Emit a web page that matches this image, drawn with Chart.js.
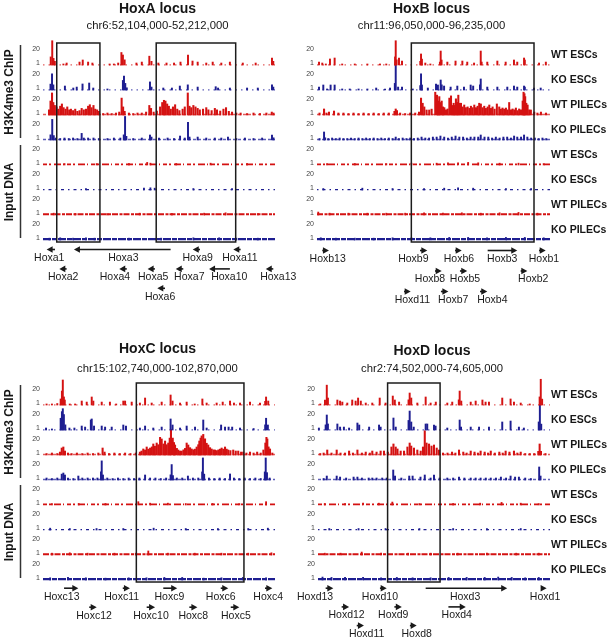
<!DOCTYPE html>
<html><head><meta charset="utf-8">
<script src="https://cdn.jsdelivr.net/npm/chart.js@4.4.1/dist/chart.umd.min.js"></script>
<style>
html,body{margin:0;padding:0;background:#fff;}
#wrap{position:relative;width:611px;height:641px;overflow:hidden;background:#fff;}
#wrap canvas{position:absolute;left:0;top:0;}
</style></head><body>
<div id="wrap">
<canvas id="cA" width="611" height="641"></canvas>
<canvas id="cB" width="611" height="641"></canvas>
<canvas id="cC" width="611" height="641"></canvas>
<canvas id="cD" width="611" height="641"></canvas>
</div>
<script>
// ---------------- DATA ----------------
const lociTitles = ['HoxA locus', 'HoxB locus', 'HoxC locus', 'HoxD locus'];
const lociCoords = ['chr6:52,104,000-52,212,000', 'chr11:96,050,000-96,235,000', 'chr15:102,740,000-102,870,000', 'chr2:74,502,000-74,605,000'];
const lociSpanKb = [108, 185, 130, 103];
const trackNames = ['WT ESCs', 'KO ESCs', 'WT PILECs', 'KO PILECs', 'WT ESCs', 'KO ESCs', 'WT PILECs', 'KO PILECs'];
const groupNames = ['H3K4me3 ChIP', 'Input DNA'];
const yTickValues = [1, 20];
const yRange = [1, 35];
const trackBackground = [1.3, 1.3, 1.6, 1.6, 1.8, 1.5, 2.0, 2.2];

// peaks: [position kb from locus start, signal]
const hoxA_wtESC = [[3.6,12],[4.3,34],[4.9,10],[5.5,6],[9.5,2.4],[11,3.7],[17,5],[18.5,7.8],[21,5],[23,3.7],[31,2.4],[33,2.4],[35,3.7],[36.5,18],[37.2,14.6],[38,8],[43.5,3.7],[46,5],[49.5,13],[50.5,6],[53.7,3.7],[57.5,3.7],[61,3.7],[64,5],[67.5,14.6],[69.6,6.4],[72,5],[76,3.7],[79,5],[83,3.7],[87,5],[93,3.7],[99,3.7],[106.6,10.5],[107.2,6]];
const hoxA_koESC = [[3.5,9],[4.2,23],[4.8,8],[10.2,6.4],[14.1,3.7],[15.7,5],[18.4,9.2],[21.5,10.5],[23.4,3.7],[30,2.4],[37.2,14],[37.7,20],[38.3,10],[39,4],[49.8,12],[50.5,5],[56,3.7],[60,3.7],[63.7,6.4],[67.4,8],[72,5],[80.4,5.5],[81.5,3.7],[87,3.7],[95,3.7],[100,3.7],[106.6,8],[107.2,5]];
const hoxA_wtPILEC = [[2.8,8],[3.5,20],[4.2,31],[4.8,18],[5.5,14],[6.3,12],[7.1,9],[8,13],[8.8,16],[9.6,11],[10.5,9],[11.3,12],[12.2,8],[13,9],[14,7],[15,9],[16,6],[17,7],[18,10],[19,8],[20,9],[21,13],[21.8,15],[22.6,11],[23.5,14],[24.3,9],[25.2,8],[26,6],[28,3],[30,3.7],[32,3],[34,3.7],[35.5,5],[36.6,24],[37.3,12],[38,6],[40,3.7],[42,3],[44,3.7],[46,3.7],[48,5],[49.5,14],[50.3,10],[51.5,5],[53,6.4],[54.5,12],[55.5,18],[56.3,21],[57,20],[57.8,16],[58.6,13],[59.5,9],[60.5,12],[61.5,15],[62.5,9],[63.5,7],[65,9],[66,12],[67.4,31],[68.2,13],[69,11],[70,14],[71,12],[72,10],[73,8],[74.5,9],[76,11],[77,8],[78.5,7],[80,10],[81,8],[82.5,6.4],[84,9],[85.2,11],[86.5,6],[88,5],[90,3.7],[92,3.7],[95,3],[98,3.7],[101,3],[104,3.7],[106.5,5],[107.3,3.7]];
const hoxA_koPILEC = [[3.5,8],[4.3,29],[5,7],[6,3.7],[8,3],[10,3.7],[12,3],[14,3.7],[16,3],[18,10],[19,3.7],[21,3.7],[23.5,3.7],[26,3],[30,3],[33,3.7],[36,3.7],[37.6,8],[38.2,33],[38.8,6],[42,3],[46,3.7],[49.8,7.8],[50.5,5],[54,3.7],[58,3.7],[61,3],[63.8,6.4],[66,3.7],[67.5,25],[68.2,5],[72,5],[76,3.7],[80,3.7],[83,3.7],[86.1,5],[90,3],[94,3.7],[98,3],[102,3.7],[106.6,7.8],[107.3,4]];
const hoxA_inWtESC = [[10,3],[25,3],[40,3],[48.5,4.5],[50,3.5],[62,3],[78,3.5],[95,3]];
const hoxA_inKoESC = [[20,3],[47,3.5],[50,4],[52,3.5],[70,3],[88,3]];
const hoxA_inWtPILEC = [[5,3.5],[15,3],[30,3],[45,3.5],[60,3],[75,3.5],[85,4],[100,3]];
const hoxA_inKoPILEC = [[3,3.5],[8,4],[14,3.5],[20,4],[24,3.5],[40,3.5],[55,3.5],[70,4],[82,4],[90,3.5],[100,3.5]];

const hoxB_wtESC = [[1.6,5],[4.2,3.7],[7,2.4],[10.3,9.2],[14,10.5],[20,2.4],[30,2.4],[40,2.4],[50,2.4],[55,2.4],[62,12],[62.5,34],[63.2,8],[65.1,10.5],[67.5,6.4],[82,6],[82.6,16],[83.3,9],[86,3.7],[90,2.4],[97.6,5],[98.2,20],[98.9,7.8],[103.5,5],[110,6.4],[115.4,6.4],[119.3,5],[124.7,3.7],[130,20],[130.7,5],[135.2,5],[143.2,6.4],[149.8,5],[156.4,7.8],[159,5],[164.4,10.5],[165,7.8],[176.3,3.7],[181.7,5]];
const hoxB_koESC = [[1.6,5],[5,7.8],[8,2.4],[10.8,7.8],[14,7.8],[20,2.4],[26,2.4],[33,2.4],[40,2.4],[47,3.7],[54,2.4],[58,3.7],[61.8,10],[62.5,39],[64.4,5],[67.5,5],[76,2.4],[82,7],[82.6,23],[83.3,7.8],[88,3.7],[94.5,9.2],[96,7.8],[98.2,14.6],[99,8],[100.9,6.4],[106.1,5],[111.4,6.4],[116.7,5],[122,7.8],[124,6.4],[129.4,8],[130,16],[135.2,5],[143.2,5],[151.1,5],[156.4,6.4],[159,5],[164.4,6.4],[165,5],[172.3,3.7],[177.6,3.7]];
const hoxB_wtPILEC = [[2,3.7],[5.6,9.2],[7.5,3.7],[9.5,5],[13.5,6.4],[17,3.7],[21,3.7],[25,3],[29,3.7],[33,3],[37,3.7],[41,3],[45,3.7],[49,3],[53,3.7],[57,3.7],[61.5,6],[62.5,9.2],[63.5,7],[66,3.7],[70,3],[74,3.7],[78,3.7],[81,5],[82.6,24],[83.9,17],[85.2,12],[87,7.8],[89.1,7.8],[91,9],[93.9,32],[95.3,28],[96.2,20],[97.1,26],[98,18],[99,20],[100,12],[101.1,11],[102.4,8],[103.7,9.2],[105.1,24],[106.4,27],[107.5,14],[108.5,17],[109.4,14],[110.3,23],[111.2,18],[112.2,28],[113.2,17],[114.3,17],[115.6,12],[116.9,14.6],[118.2,11],[119.6,12],[121,10],[122.2,13],[123.5,11],[124.9,14.6],[126.2,11],[127.5,13],[128.8,17],[130.1,16],[131.5,11],[132.8,13],[134.1,10],[135.5,12],[136.8,14.6],[138.1,10],[139.4,12],[141,9],[142.8,16],[144.7,12],[146,9],[147.3,10.5],[148.6,9],[150,10.5],[151.3,8],[152.6,18],[154,8],[155.3,9.2],[156.6,8],[157.9,10.5],[159.2,7],[160.5,9.2],[162,8],[163.3,20],[164,32],[164.7,30],[165.3,26],[166.2,17],[167.2,14.6],[168.5,8],[169.8,7.8],[172.5,5],[175,3.7],[177.8,5],[181.8,3.7]];
const hoxB_koPILEC = [[2,3],[5.6,11.9],[6.5,4],[9,3],[12,3.7],[15,3],[18,3.7],[21,3],[24,3],[27,3.7],[30,3],[33,3.7],[36,3],[39,3.7],[42,3],[45,3.7],[48,3],[51,3.7],[54,3],[57,3.7],[60,3],[62.5,5],[65,3],[68,3.7],[71,3],[74,3.7],[77,3],[80,3.7],[83,5],[86,3.7],[89,3.7],[92,5],[95,5],[98,6.4],[101,5],[104,3.7],[107,5],[110,6.4],[113,5],[116,5],[119,3.7],[122,5],[125,5],[128,5],[130,7.8],[133,5],[136,5],[139,3.7],[142,5],[145,3.7],[148,5],[151,5],[154,3.7],[156.5,6.4],[159,5],[162,5],[164.4,7.8],[167,5],[170,3.7],[173,3.7],[176,3],[179,3.7],[182,3]];
const hoxB_inWtESC = [[8,3],[30,3],[55,3],[75,3.5],[95,3.5],[104,4],[112,4],[120,4.5],[128,4],[145,3.5],[160,3.5],[180,3]];
const hoxB_inKoESC = [[5,3],[36,3.5],[60,3],[85,3],[101,3.5],[112,4],[124,3.5],[150,3],[170,3]];
const hoxB_inWtPILEC = [[1,5],[10,3.5],[25,3.5],[40,3.5],[55,3.5],[70,3.5],[85,4],[100,3.5],[115,4],[130,3.5],[145,4],[160,4.5],[175,3.5]];
const hoxB_inKoPILEC = [[3,4],[15,3.5],[30,3.5],[45,3.5],[60,4],[75,4],[90,4],[105,4.5],[120,4.5],[135,4],[150,4.5],[165,4.5],[180,4]];

const hoxC_wtESC = [[2,2.4],[5,2.4],[8,3],[9.9,9.2],[10.6,20],[11.1,35],[11.7,12],[12.2,7.8],[15,2.4],[18,2.4],[21.7,6.4],[24.5,5],[27.3,11.9],[28.2,6.4],[32.9,5],[37.5,5],[41,2.4],[45,6.4],[46,6.4],[49.7,5],[54.3,3.7],[57.2,10.5],[60.9,3.7],[66.5,5],[71.5,14.6],[72.6,6.4],[76.8,3.7],[80.5,5],[85,2.4],[89.3,9.2],[91.7,3.7],[97.3,3.7],[100.7,5],[104.8,6.4],[107,3.7],[110.4,3.7],[116,5],[121.6,3.7],[124.5,6],[125,11.9],[126.2,6.4]];
const hoxC_koESC = [[1.7,3.7],[5,2.4],[9.9,17],[10.6,26],[11.1,30],[11.7,22],[12.5,8],[14.8,3.7],[17.6,3.7],[21.7,6.4],[23.6,5],[26.8,14.6],[27.3,16],[28.6,6.4],[32.9,6.4],[34.8,5],[38.5,5],[45,7.8],[46.5,6.4],[54.3,3.7],[57.2,6.4],[61.8,3.7],[66.5,5],[71.5,16],[72.6,7.8],[76.8,3.7],[80.5,6.4],[85.2,5],[89.8,14.6],[91.7,3.7],[99.8,7.8],[102,5],[104,5],[106,5],[110.4,3.7],[118,3],[124.5,8],[125,17],[126,7.8]];
const hoxC_wtPILEC = [[2,3],[5,3.7],[8,3],[9.5,5],[10.5,10.5],[11.4,11.9],[12.3,6.4],[14,3.7],[16,3],[19,3.7],[22,3],[25,3.7],[28,3],[31,3.7],[33.4,10.5],[34.5,5],[37,3],[40,3.7],[43,3],[46,3.7],[49,3],[52,3.7],[54.3,5],[55.2,6.4],[56.2,9.2],[57.2,7.8],[58.1,11.9],[59,9],[60,10.5],[61,12],[61.8,16],[62.7,13],[63.7,17.3],[64.6,15],[65.6,25],[66.5,22.8],[67.5,16],[68.4,20],[69.3,15],[70.2,17.3],[71,24],[71.7,36],[72.7,24],[73.4,18],[74,14.6],[75,10],[75.8,7.8],[76.8,6.4],[77.7,6.4],[78.7,8],[79.6,10],[80.5,17.3],[81.4,14.6],[82.4,11],[83.3,9.2],[84.2,8],[85.1,9],[86.1,11.9],[87,15],[87.6,20],[88.3,24],[88.9,27],[89.8,29],[90.8,23],[91.7,17],[92.6,14.6],[93.6,11],[94.5,9.2],[95.5,8],[96.4,7.8],[97.4,7],[98.3,8],[99.2,9],[100.1,10.5],[101,9],[102,11.9],[102.9,9],[103.8,7.8],[105,7],[106.6,7.8],[108,6.4],[109.4,6.4],[111,5],[112.2,5],[114,3.7],[116,5],[118,3.7],[120,5],[122,3.7],[123.5,7.8],[124.6,17.3],[125.2,25],[125.7,22.8],[126.4,12],[127.2,9.2],[128.5,3.7]];
const hoxC_koPILEC = [[2,3.7],[5,3],[8,3.7],[10.5,9],[11.4,10.5],[12.3,7.8],[14,3.7],[17,3],[19.8,6.4],[22,3.7],[25,3.7],[28,3.7],[30.5,3.7],[32.5,12],[32.9,27],[33.6,7.8],[36,3.7],[39,3],[42,3.7],[45,3],[48,3.7],[51,3],[54,3.7],[57.2,7.8],[60,3.7],[63,3.7],[66,3],[69,3.7],[71.5,8],[72.1,22],[72.8,7],[75,3.7],[78,3.7],[81.2,6.4],[84,3.7],[87,3.7],[89.2,12],[89.6,31],[90.3,9],[93,3.7],[96,3],[99,3.7],[102,3],[104.8,9.2],[107,3.7],[110,3],[113,3.7],[116,3],[119,3.7],[122,3],[124.3,12],[124.8,31],[125.5,11],[127,3.7]];
const hoxC_inWtESC = [[5,3],[20,3],[35,3],[53.4,5.5],[60,3.5],[70,3.5],[80,3],[95,3],[110,3],[125,5.5]];
const hoxC_inKoESC = [[4,3.5],[15,3],[30,3],[45,3],[62,3.5],[80,3],[98,3],[115,3],[126,3.5]];
const hoxC_inWtPILEC = [[5,3.5],[15,4],[25,3.5],[40,3.5],[52,3.5],[59,6.5],[70,3.5],[85,3.5],[100,3.5],[115,3.5],[128,4]];
const hoxC_inKoPILEC = [[4,4],[14,4.5],[24,4],[35,3.5],[48,4],[58,4],[68,4.5],[78,4.5],[90,3.5],[100,4],[112,4.5],[125,4]];

const hoxD_wtESC = [[1,2.4],[3.1,7.8],[3.9,28],[4.4,10.5],[8.6,7.8],[9.8,6.4],[10.8,5],[13,3.7],[15.2,7.8],[16.7,6.4],[17.8,10.5],[19,6.4],[21.2,3.7],[24.1,3.7],[27.4,10.5],[30,3.7],[33.2,13.2],[34.1,7.8],[36,5],[40.2,8],[40.7,17.3],[41.4,10.5],[44.1,3.7],[47.8,11.9],[50,3.7],[52.3,5],[57.4,3.7],[59.6,5],[62.5,8],[62.9,20],[63.6,6.4],[67.8,5],[70,6.4],[73,7.8],[74.4,5],[75.9,5],[81.8,10.5],[85.5,9.2],[87,5],[90,3.7],[94,2.4],[98.4,12],[98.9,36],[99.5,9]];
const hoxD_koESC = [[0.4,3.7],[3.4,8],[3.9,21.4],[4.4,9.2],[8.6,9.2],[9.8,5],[11.5,5],[13.8,3.7],[17.5,10.5],[18.3,7.8],[22.7,5],[27.1,7.8],[27.8,5],[33.5,17.3],[34.5,5],[40.2,14],[40.7,26.8],[41.4,11.9],[42.5,5],[47.8,9.2],[48.5,9.2],[51.5,7.8],[52.2,6.4],[57.4,3.7],[62.9,14.6],[63.5,5],[67.8,5],[71.5,5],[75.9,5],[81.8,11.9],[85.5,13.2],[89.2,5],[91.4,3.7],[98,12],[98.5,35],[99.1,9]];
const hoxD_wtPILEC = [[1,3],[2.5,3.7],[4.1,7.8],[6,3.7],[8.3,7.8],[10,3.7],[12,3.7],[13.8,6.4],[15.5,3.7],[17.5,7.8],[19.5,3.7],[21.2,5],[23,3.7],[24.1,6.4],[26,5],[27.8,6.4],[29.3,6.4],[31,5],[32.6,11.9],[33.5,16],[34.5,11.9],[35.3,9.2],[36.7,6.4],[38.2,6.4],[39.7,11.9],[40.7,17.3],[41.4,13.2],[42.6,10.5],[44.1,7.8],[45.6,6.4],[46.6,11.9],[47.4,34],[48.2,17.3],[49.3,16],[50.4,13.2],[51.5,14.6],[52.7,10.5],[53.7,7.8],[55.5,3.7],[57.5,3.7],[59.5,5],[61,3.7],[62.6,7.8],[64.5,5],[66,3.7],[67.8,6.4],[69.5,5],[71,3.7],[72.2,6.4],[74,5],[75.5,3.7],[76.7,6.4],[78.5,3.7],[80.5,5],[82,3.7],[83.3,6.4],[85,5],[87,6.4],[88.5,3.7],[90,5],[92,3],[94,3],[96,3],[97.8,6],[98.4,16],[99,6],[101,3]];
const hoxD_koPILEC = [[2.5,3],[3.9,6.4],[8.3,6.4],[9.8,5],[12.5,3.7],[15.8,5],[17.5,5],[19.5,3.7],[22.5,3.7],[24.1,3.7],[26,3.7],[28.5,3.7],[30.5,3.7],[33.4,14.6],[34.2,6.4],[37,3.7],[40.5,6.4],[42,6.4],[45.5,5],[47.4,7.8],[50,3.7],[51.5,7.8],[54,3.7],[57.4,3.7],[60,3.7],[62.6,5],[65,3.7],[67.8,3.7],[70,3.7],[72.2,3.7],[74.5,3.7],[76.7,3.7],[79,3.7],[81.2,5],[83.5,3.7],[85.5,6.4],[87.5,5],[89.2,5],[92,3.7],[94.5,3],[98.2,18.7],[98.8,6.4]];
const hoxD_inWtESC = [[3,3],[12,3],[20,3.5],[27,3.5],[33,5],[45,3],[60,3],[72,3.5],[81.5,4.5],[90,3.5],[98,3]];
const hoxD_inKoESC = [[5,3],[18,3],[30,3],[45,3],[60,3],[75,3],[90,3]];
const hoxD_inWtPILEC = [[3,3.5],[10,3.5],[19.4,5],[28,3.5],[40,3.5],[50,3.5],[62,3.5],[75,3.5],[88,3.5],[98,3.5]];
const hoxD_inKoPILEC = [[2,5],[6,4.5],[12,4.5],[20,4.5],[28,4],[35,4.5],[42,4],[50,4],[58,4.5],[66,4.5],[74,4.5],[80,5],[86,4.5],[92,4],[98,4.5]];

// highlighted regions [startKb, endKb]
const hoxA_boxes = [[6.4, 26.5], [52.7, 89.7]];
const hoxB_boxes = [[74.9, 172.3]];
const hoxC_boxes = [[52.3, 112.6]];
const hoxD_boxes = [[30.9, 54.2]];

// genes: [name, tailKb, headKb, labelKb, row]
const hoxA_genes = [['Hoxa1',5.6,1.7,2.9,0],['Hoxa3',59.4,14.4,37.4,0],['Hoxa9',73.1,69.7,72.0,0],['Hoxa11',92.0,88.6,91.7,0],['Hoxa2',11.0,7.6,9.4,1],['Hoxa4',39.0,35.5,33.5,1],['Hoxa5',52.1,48.7,51.3,1],['Hoxa7',65.3,61.8,68.1,1],['Hoxa10',87.0,77.3,86.7,1],['Hoxa13',107.2,103.7,109.5,1],['Hoxa6',56.8,53.2,54.5,2]];
const hoxB_genes = [['Hoxb13',4.2,9.5,8.5,0],['Hoxb9',81.8,87.6,76.5,0],['Hoxb6',109.6,114.9,112.7,0],['Hoxb3',135.5,159.0,147.1,0],['Hoxb1',176.3,181.6,180.2,0],['Hoxb8',93.7,99.0,89.7,1],['Hoxb5',113.5,119.3,117.5,1],['Hoxb2',161.7,167.0,171.7,1],['Hoxd11',69.1,74.4,75.7,2],['Hoxb7',98.4,104.3,108.2,2],['Hoxb4',129.4,135.2,139.2,2]];
const hoxC_genes = [['Hoxc13',11.8,19.8,10.5,0],['Hoxc11',44.7,48.7,44.1,0],['Hoxc9',67.4,75.2,70.8,0],['Hoxc6',99.6,103.8,99.6,0],['Hoxc4',124.4,128.5,126.2,0],['Hoxc12',25.9,30.1,28.6,1],['Hoxc10',58.1,62.8,60.5,1],['Hoxc8',82.0,86.5,84.2,1],['Hoxc5',105.2,110.0,108.1,1]];
const hoxD_genes = [['Hoxd13',3.4,6.8,-1.3,0],['Hoxd10',27.5,30.5,27.5,0],['Hoxd3',47.8,84.0,65.3,0],['Hoxd1',99.0,101.5,100.8,0],['Hoxd12',10.5,13.8,12.7,1],['Hoxd9',33.9,37.2,33.4,1],['Hoxd4',57.9,65.6,61.6,1],['Hoxd11',17.2,20.4,21.6,2],['Hoxd8',40.8,43.8,43.8,2]];

// ---------------- STYLE / LAYOUT ----------------
const FONT = '"Liberation Sans", Arial, Helvetica, sans-serif';
const RED = 'rgb(212,18,18)';
const BLUE = 'rgb(30,30,145)';
const RED_BG = 'rgba(215,40,40,0.75)';
const BLUE_BG = 'rgba(40,40,160,0.75)';
const TRACK_COLORS = [RED, BLUE, RED, BLUE, RED, BLUE, RED, BLUE];
const TRACK_BG_COLORS = [RED_BG, BLUE_BG, RED_BG, BLUE_BG, RED, BLUE, RED, BLUE];
const TRACK_BG_DASH = [[1.5,4],[1.5,4],[3,2],[3,2],[4,2,2,3,7,2,1,3],[1.5,4,3,4],[6,1.5,3,1],[8,1,5,1]];
const TRACK_BG_WIDTH = [1.2, 1.2, 1.5, 1.5, 1.8, 1.4, 2, 2.4];
const TRACK_BAR_W = [1.3, 1.3, 1.4, 1.3, 1.2, 1.2, 1.2, 1.2];

const PANELS = [
  {canvas:'cA', left:43,  right:275, top:40,  bottom:240, titleX:157.5, titleY:9.5,  subY:25.7,  side:'left',  geneY0:18,   geneDY:19.4},
  {canvas:'cB', left:317, right:550, top:40,  bottom:240, titleX:431.5, titleY:9.0,  subY:25.5,  side:'right', geneY0:19,   geneDY:20.5},
  {canvas:'cC', left:43,  right:275, top:380, bottom:580, titleX:157.5, titleY:349.5, subY:369.3, side:'left',  geneY0:16.7, geneDY:19},
  {canvas:'cD', left:318, right:550, top:380, bottom:580, titleX:432,   titleY:351,  subY:369,   side:'right', geneY0:16.7, geneDY:18.7}
];

const LOCI = [
  {tracks:[hoxA_wtESC,hoxA_koESC,hoxA_wtPILEC,hoxA_koPILEC,hoxA_inWtESC,hoxA_inKoESC,hoxA_inWtPILEC,hoxA_inKoPILEC], boxes:hoxA_boxes, genes:hoxA_genes},
  {tracks:[hoxB_wtESC,hoxB_koESC,hoxB_wtPILEC,hoxB_koPILEC,hoxB_inWtESC,hoxB_inKoESC,hoxB_inWtPILEC,hoxB_inKoPILEC], boxes:hoxB_boxes, genes:hoxB_genes},
  {tracks:[hoxC_wtESC,hoxC_koESC,hoxC_wtPILEC,hoxC_koPILEC,hoxC_inWtESC,hoxC_inKoESC,hoxC_inWtPILEC,hoxC_inKoPILEC], boxes:hoxC_boxes, genes:hoxC_genes},
  {tracks:[hoxD_wtESC,hoxD_koESC,hoxD_wtPILEC,hoxD_koPILEC,hoxD_inWtESC,hoxD_inKoESC,hoxD_inWtPILEC,hoxD_inKoPILEC], boxes:hoxD_boxes, genes:hoxD_genes}
];

const decorPlugin = {
  id: 'decor',
  afterDraw(chart, args, o) {
    const ctx = chart.ctx;
    const xs = chart.scales.x;
    const P = o.panel, L = o.locus, i = o.index;
    const top = chart.chartArea.top, bottom = chart.chartArea.bottom;
    const ink = '#161616';
    ctx.save();
    ctx.fillStyle = ink; ctx.strokeStyle = ink;
    ctx.textAlign = 'center'; ctx.textBaseline = 'middle';
    ctx.font = 'bold 14px ' + FONT;
    ctx.fillText(lociTitles[i], P.titleX, P.titleY);
    ctx.font = '11.3px ' + FONT;
    ctx.fillText(lociCoords[i], P.titleX, P.subY);

    // highlight boxes
    ctx.lineWidth = 1.5; ctx.strokeStyle = '#1c1c1c';
    for (const [a, b] of L.boxes) {
      const x1 = xs.getPixelForValue(a), x2 = xs.getPixelForValue(b);
      ctx.strokeRect(x1, top + 3, x2 - x1, bottom - top - 1);
    }

    const baseY = t => chart.scales['y' + t].getPixelForValue(yTickValues[0]);
    if (P.side === 'left') {
      ctx.strokeStyle = '#333'; ctx.lineWidth = 1.5;
      for (let g = 0; g < 2; g++) {
        const yTop = chart.scales['y' + (g * 4)].top;
        const yBot = chart.scales['y' + (g * 4 + 3)].bottom;
        ctx.beginPath(); ctx.moveTo(20.5, yTop + 5); ctx.lineTo(20.5, yBot - 2); ctx.stroke();
        ctx.save();
        ctx.translate(10, (yTop + yBot) / 2 + 2);
        ctx.rotate(-Math.PI / 2);
        ctx.font = 'bold 12px ' + FONT; ctx.fillStyle = ink;
        ctx.fillText(groupNames[g], 0, 0);
        ctx.restore();
      }
    } else {
      ctx.textAlign = 'left';
      ctx.font = 'bold 10.5px ' + FONT;
      for (let t = 0; t < 8; t++) ctx.fillText(trackNames[t], 551, baseY(t) - 10);
    }

    // genes
    ctx.textAlign = 'center';
    ctx.font = '10.5px ' + FONT;
    ctx.lineWidth = 1.6; ctx.strokeStyle = '#1a1a1a'; ctx.fillStyle = '#1a1a1a';
    for (const [name, tail, head, lab, row] of L.genes) {
      const ty = bottom + P.geneY0 + row * P.geneDY;
      const ay = ty - 8.5;
      const xt = xs.getPixelForValue(tail), xh = xs.getPixelForValue(head);
      const dir = xh > xt ? 1 : -1;
      ctx.beginPath(); ctx.moveTo(xt, ay); ctx.lineTo(xh - dir * 4, ay); ctx.stroke();
      ctx.beginPath(); ctx.moveTo(xh, ay); ctx.lineTo(xh - dir * 6, ay - 3.3); ctx.lineTo(xh - dir * 6, ay + 3.3); ctx.closePath(); ctx.fill();
      ctx.fillText(name, xs.getPixelForValue(lab), ty);
    }
    ctx.restore();
  }
};

function buildChart(i) {
  const P = PANELS[i], L = LOCI[i];
  const AXIS_W = 12;
  const scales = { x: { type: 'linear', min: 0, max: lociSpanKb[i], display: false, offset: false } };
  for (let t = 7; t >= 0; t--) {
    scales['y' + t] = {
      type: 'linear', position: 'left', stack: 'tracks', stackWeight: 1, offset: false,
      min: yRange[0], max: yRange[1],
      grid: { display: false, drawTicks: false }, border: { display: false },
      afterBuildTicks: s => { s.ticks = yTickValues.map(v => ({ value: v })); },
      afterFit: s => { s.width = AXIS_W; },
      ticks: { autoSkip: false, padding: 3, labelOffset: -2, color: '#444', font: { family: FONT, size: 7 }, callback: v => String(v) }
    };
  }
  const datasets = [];
  for (let t = 0; t < 8; t++) {
    datasets.push({
      type: 'line', yAxisID: 'y' + t, xAxisID: 'x',
      data: [{ x: 0, y: trackBackground[t] }, { x: lociSpanKb[i], y: trackBackground[t] }],
      borderColor: TRACK_BG_COLORS[t], borderWidth: TRACK_BG_WIDTH[t], borderDash: TRACK_BG_DASH[t],
      pointRadius: 0, fill: false, clip: false, order: 2
    });
    datasets.push({
      type: 'bar', yAxisID: 'y' + t, xAxisID: 'x',
      data: L.tracks[t].map(([x, y]) => ({ x, y })),
      backgroundColor: TRACK_COLORS[t], borderWidth: 0,
      base: yRange[0], grouped: false, barThickness: TRACK_BAR_W[t], maxBarThickness: TRACK_BAR_W[t],
      categoryPercentage: 1, barPercentage: 1, clip: false, order: 1
    });
  }
  return new Chart(document.getElementById(P.canvas), {
    type: 'bar',
    data: { datasets },
    options: {
      responsive: false, animation: false, devicePixelRatio: 1, events: [],
      layout: { padding: { left: P.left - AXIS_W, right: 611 - P.right, top: P.top, bottom: 641 - P.bottom } },
      scales,
      plugins: { legend: { display: false }, tooltip: { enabled: false }, title: { display: false },
        decor: { panel: P, locus: L, index: i } }
    },
    plugins: [decorPlugin]
  });
}
Chart.defaults.font.family = FONT;
for (let i = 0; i < 4; i++) buildChart(i);
</script>
</body></html>
